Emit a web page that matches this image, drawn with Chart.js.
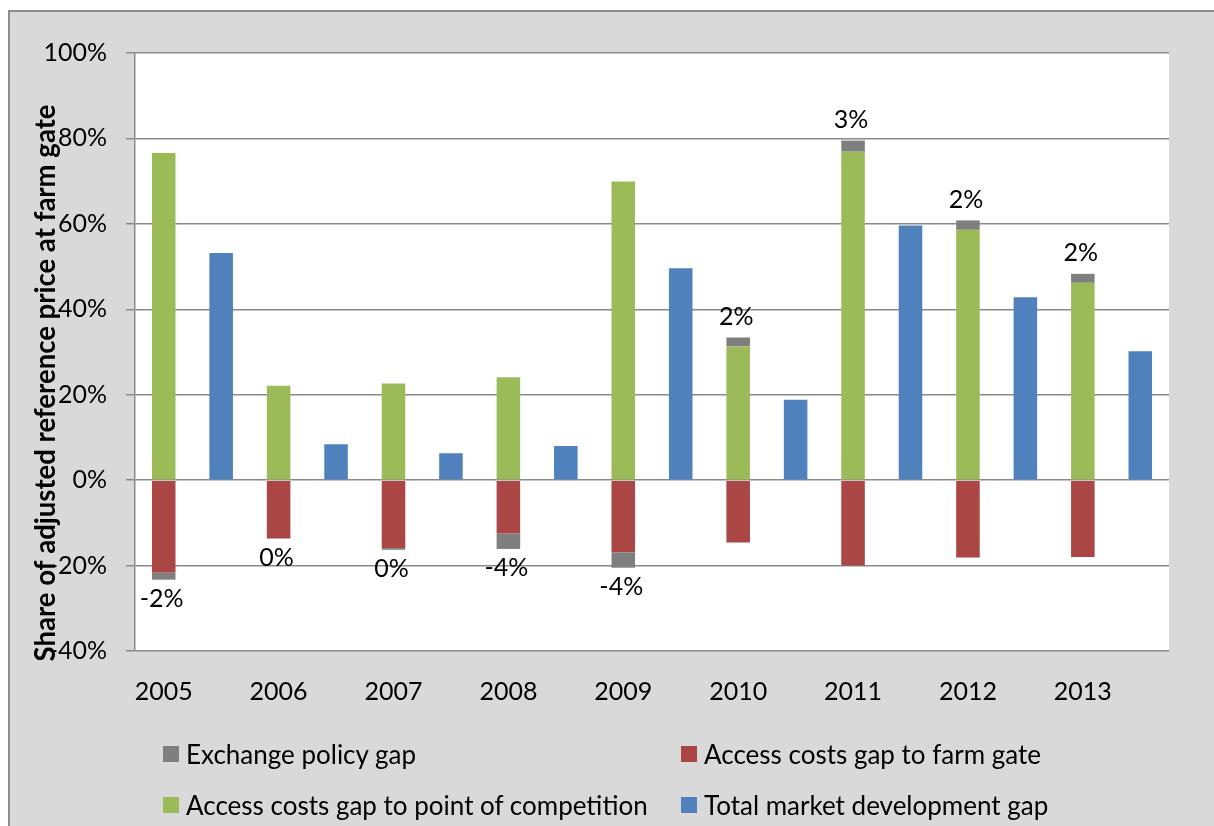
<!DOCTYPE html>
<html>
<head>
<meta charset="utf-8">
<title>Farm gate price gaps</title>
<script src="https://cdn.jsdelivr.net/npm/chart.js@4.4.1/dist/chart.umd.min.js"></script>
<style>
  body { margin: 0; background: #fff; font-family: Lato, "Open Sans", sans-serif; }
  #wrap { position: relative; width: 1214px; height: 826px; overflow: hidden; }
  #frame { position: absolute; left: 8px; top: 10px; width: 1230px; height: 840px; background: #d9d9d9;
           border-left: 2px solid #8c8c8c; border-top: 2px solid #8c8c8c; }
  #chart { position: absolute; left: 0; top: 0; }
  .item { position: absolute; height: 30px; display: flex; align-items: center; font-size: 26px; color: #000; white-space: nowrap; }
  .item i { display: inline-block; width: 16px; height: 16px; margin-right: 7px; }
</style>
</head>
<body>
<div id="wrap">
  <div id="frame"></div>
  <canvas id="chart" width="1214" height="826"></canvas>
  <div id="legend"></div>
</div>
<script>
(function () {
    "use strict";

    const years = ["2005", "2006", "2007", "2008", "2009", "2010", "2011", "2012", "2013"];
    // shares of adjusted reference price, in %
    const exchangePolicy = [-1.7, -0.1, -0.4, -3.6, -3.6, 2.1, 2.6, 2.2, 2.1];
    const accessFarmGate = [-21.6, -13.6, -15.9, -12.5, -16.9, -14.6, -20.0, -18.1, -18.0];
    const accessCompetition = [76.6, 22.1, 22.6, 24.1, 69.9, 31.3, 76.9, 58.6, 46.2];
    const marketDevelopment = [53.2, 8.4, 6.3, 8.0, 49.6, 18.8, 59.6, 42.8, 30.2];
    const yTicks = [-40, -20, 0, 20, 40, 60, 80, 100];

    const FONT = "Lato, 'Open Sans', sans-serif";
    const gridColor = "#8a8a8a";

    // every year gets two slots: the stacked gap bar, then the market development bar
    const categories = years.flatMap((y) => [y, ""]);
    const slot = (arr, pos) => categories.map((_, i) => (i % 2 === pos ? arr[i >> 1] : null));

    const series = [
        { label: "Access costs gap to point of competition", data: slot(accessCompetition, 0), color: "#9bbb59" },
        { label: "Access costs gap to farm gate", data: slot(accessFarmGate, 0), color: "#aa4643" },
        { label: "Exchange policy gap", data: slot(exchangePolicy, 0), color: "#7f7f7f" },
        { label: "Total market development gap", data: slot(marketDevelopment, 1), color: "#4f81bd" },
    ];

    // legend is laid out in two columns like the original
    const legendItems = [
        { s: 2, left: 163, top: 739 },
        { s: 1, left: 681, top: 739 },
        { s: 0, left: 163, top: 790 },
        { s: 3, left: 681, top: 790 },
    ];
    const legend = document.getElementById("legend");
    legendItems.forEach((it) => {
        const div = document.createElement("div");
        div.className = "item";
        div.style.left = it.left + "px";
        div.style.top = it.top + "px";
        div.innerHTML = '<i style="background:' + series[it.s].color + '"></i>' + series[it.s].label;
        legend.appendChild(div);
    });

    const plotBackground = {
        id: "plotBackground",
        beforeDraw(chart) {
            const { ctx, chartArea: a } = chart;
            ctx.save();
            ctx.fillStyle = "#ffffff";
            ctx.fillRect(a.left, a.top, a.right - a.left, a.bottom - a.top);
            ctx.restore();
        },
    };

    // percentage labels at the end of the exchange policy pieces
    const gapLabels = {
        id: "gapLabels",
        afterDatasetsDraw(chart) {
            const ctx = chart.ctx;
            const meta = chart.getDatasetMeta(2);
            ctx.save();
            ctx.font = "25px " + FONT;
            ctx.fillStyle = "#000";
            ctx.textAlign = "center";
            ctx.textBaseline = "middle";
            meta.data.forEach((el, i) => {
                const v = chart.data.datasets[2].data[i];
                if (v === null) return;
                const txt = Math.round(v) + "%";
                const y = v < 0 ? el.y + 19 : el.y - 21;
                ctx.fillText(txt, el.x - 2, y);
            });
            ctx.restore();
        },
    };

    // y title sits over the tick labels, as in the source
    const yTitle = {
        id: "yTitle",
        afterDraw(chart) {
            const { ctx, chartArea: a } = chart;
            const text = "Share of adjusted reference price at farm gate";
            ctx.save();
            ctx.font = "bold 28px " + FONT;
            const w = ctx.measureText(text).width;
            const k = Math.min(1, 557 / w);
            ctx.translate(a.left - 80, (a.top + a.bottom) / 2 + 31);
            ctx.rotate(-Math.PI / 2);
            ctx.scale(k, 1);
            ctx.fillStyle = "#000";
            ctx.textAlign = "center";
            ctx.textBaseline = "alphabetic";
            ctx.fillText(text, 0, 0);
            ctx.restore();
        },
    };

    Chart.defaults.font.family = FONT;
    Chart.defaults.color = "#000";

    new Chart(document.getElementById("chart").getContext("2d"), {
        type: "bar",
        data: {
            labels: categories,
            datasets: series.map((s) => ({
                label: s.label,
                data: s.data,
                backgroundColor: s.color,
                categoryPercentage: 1,
                barPercentage: 0.41,
            })),
        },
        options: {
            responsive: false,
            animation: false,
            layout: { padding: { top: 53, right: 45, left: 0, bottom: 0 } },
            plugins: {
                legend: { display: false },
                tooltip: { enabled: false },
            },
            scales: {
                x: {
                    stacked: true,
                    grid: { display: false },
                    border: { display: false },
                    ticks: {
                        autoSkip: false,
                        maxRotation: 0,
                        padding: 18,
                        font: { size: 25 },
                        color: "#000",
                    },
                    afterFit(s) {
                        s.height = 175;
                    },
                },
                y: {
                    stacked: true,
                    min: yTicks[0],
                    max: yTicks[yTicks.length - 1],
                    afterBuildTicks(s) {
                        s.ticks = yTicks.map((v) => ({ value: v }));
                    },
                    grid: { color: gridColor, lineWidth: 1.5, tickLength: 9 },
                    border: { color: gridColor, width: 1.5 },
                    ticks: {
                        padding: 19,
                        font: { size: 25 },
                        color: "#000",
                        callback: (v) => v + "%",
                    },
                    afterFit(s) {
                        s.width = 135;
                    },
                },
            },
        },
        plugins: [plotBackground, gapLabels, yTitle],
    });
})();
</script>
</body>
</html>
